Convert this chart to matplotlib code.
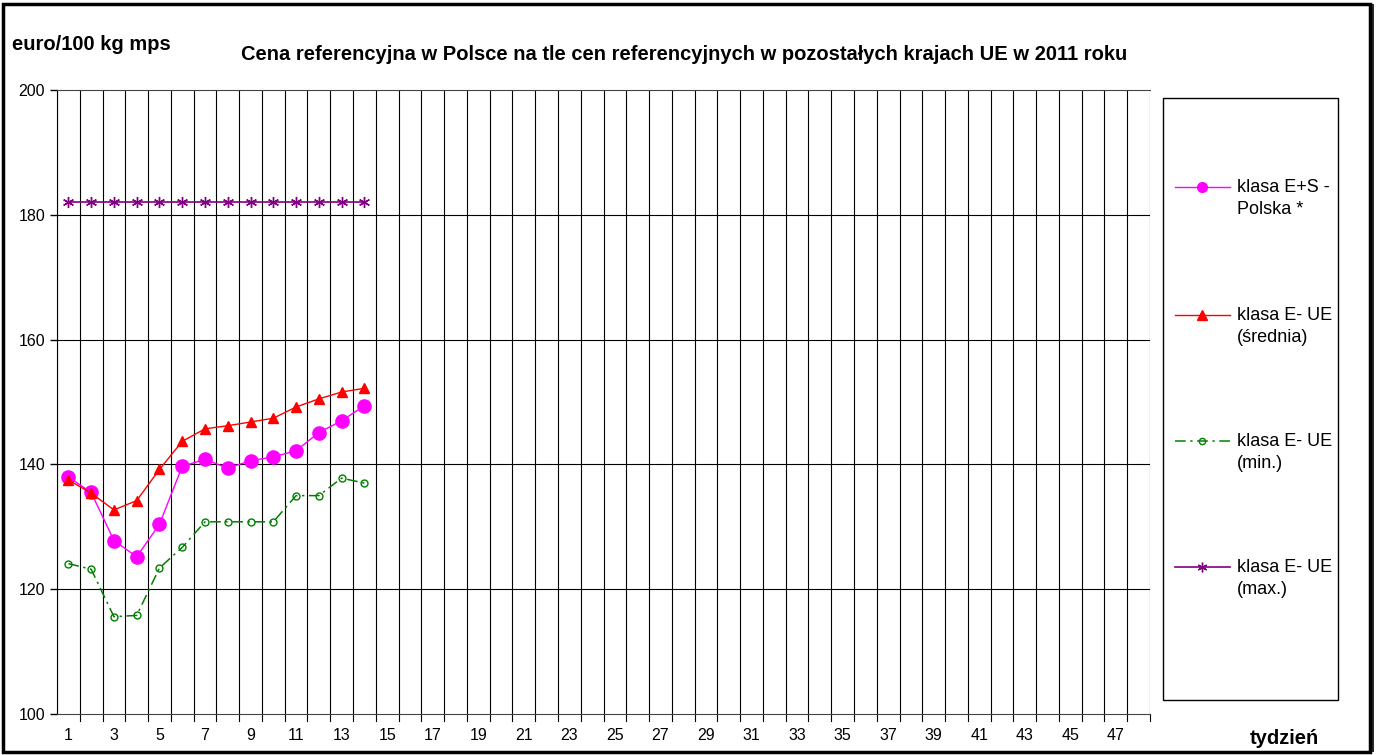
import matplotlib.pyplot as plt
from matplotlib.patches import Rectangle
from matplotlib.lines import Line2D
import numpy as np

plt.rcParams['font.family'] = ['Liberation Sans', 'DejaVu Sans']

# dane (tygodnie 2011)
weeks = list(range(1, 15))
polska = [138.0, 135.5, 127.8, 125.2, 130.4, 139.7, 140.8, 139.4, 140.6, 141.2, 142.2, 145.1, 147.0, 149.4]
ue_srednia = [137.5, 135.4, 132.7, 134.2, 139.2, 143.7, 145.7, 146.2, 146.8, 147.4, 149.2, 150.5, 151.6, 152.2]
ue_min = [124.1, 123.2, 115.6, 115.8, 123.4, 126.7, 130.8, 130.8, 130.8, 130.8, 135.0, 135.0, 137.8, 137.0]
ue_max = [182.0] * 14
n_weeks = 48
labels = ['klasa E+S -\nPolska *', 'klasa E- UE\n(średnia)', 'klasa E- UE\n(min.)', 'klasa E- UE\n(max.)']

dashdot = (0, (7, 3, 1.5, 3))

fig = plt.figure(figsize=(13.8, 7.55), dpi=100)
ax = fig.add_axes([57/1380, 1-714/755, (1150-57)/1380, (714-90)/755])

h1, = ax.plot(weeks, polska, color='#FF00FF', lw=1, marker='o', ms=9.5)
h2, = ax.plot(weeks, ue_srednia, color='#FF0000', lw=1, marker='^', ms=7.5)
h3, = ax.plot(weeks, ue_min, color='#008000', lw=1.1, ls=dashdot, marker='o', ms=5,
              mfc='none', mec='#008000')
h4, = ax.plot(weeks, ue_max, color='#800080', lw=1.2, marker=(6, 2, 0), ms=8)

ax.set_xlim(0.5, n_weeks + 0.5)
ax.set_ylim(100, 200)
ax.set_yticks(np.arange(100, 201, 20))
ax.set_xticks(range(1, n_weeks + 1, 2))
ax.tick_params(axis='x', length=0, pad=10, labelsize=11.5)
ax.tick_params(axis='y', length=5, width=1, direction='out', labelsize=11.5)

# siatka
for b in np.arange(0.5, n_weeks + 1, 1):
    ax.axvline(b, color='black', lw=0.8, zorder=0)
for yv in range(120, 200, 20):
    ax.axhline(yv, color='black', lw=0.8, zorder=0)
for b in np.arange(1.5, n_weeks + 0.6, 1):
    ax.plot([b, b], [100, 98.8], color='black', lw=0.8, clip_on=False)

for s in ['top', 'bottom']:
    ax.spines[s].set_color('#444444')
ax.spines['left'].set_color('black')
ax.spines['right'].set_visible(False)

fig.text(12/1380, 1-45/755, 'euro/100 kg mps', fontsize=14.5, fontweight='bold', va='center')
fig.text(684/1380, 1-55/755, 'Cena referencyjna w Polsce na tle cen referencyjnych w pozostałych krajach UE w 2011 roku',
         fontsize=14.5, fontweight='bold', ha='center', va='center')
fig.text(1284/1380, 1-738/755, 'tydzień', fontsize=14.5, fontweight='bold', ha='center', va='center')

# legenda (rysowana recznie, znacznik na wysokosci pierwszej linii opisu)
fig.patches.append(Rectangle((1163/1380, 1-700/755), (1338-1163)/1380, (700-98)/755,
                             transform=fig.transFigure, fill=False, ec='black', lw=1))
leg_y = [187, 315, 441, 567]
leg_ms = [7, 6.5, 4.5, 7]
leg_ls = ['-', '-', dashdot, '-']
for h, lab, yy, ms, ls in zip([h1, h2, h3, h4], labels, leg_y, leg_ms, leg_ls):
    yf = 1 - yy/755
    fig.lines.append(Line2D([1175/1380, 1230/1380], [yf, yf], transform=fig.transFigure,
                            color=h.get_color(), lw=h.get_linewidth(), ls=ls))
    fig.lines.append(Line2D([1202/1380], [yf], transform=fig.transFigure, ls='none',
                            marker=h.get_marker(), ms=ms, color=h.get_color(),
                            mfc=h.get_markerfacecolor(), mec=h.get_markeredgecolor()))
    for k, line in enumerate(lab.split('\n')):
        fig.text(1237/1380, 1 - (yy + 23*k)/755, line, fontsize=13, va='center', ha='left')

# ramka
fig.patches.append(Rectangle((3/1380, 3/755), 1367/1380, 748/755, transform=fig.transFigure,
                             fill=False, ec='black', lw=2.5))
fig.patches.append(Rectangle((1373/1380, 3/755), 0, 748/755, transform=fig.transFigure,
                             fill=False, ec='black', lw=1.2))

fig.savefig('out.png', dpi=100)
